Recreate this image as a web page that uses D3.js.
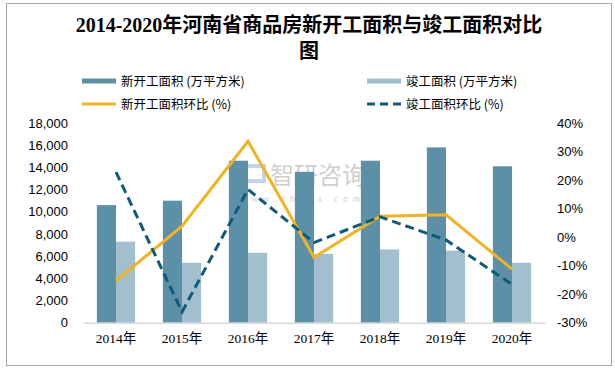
<!DOCTYPE html>
<html><head><meta charset="utf-8">
<script src="https://cdn.jsdelivr.net/npm/d3@7/dist/d3.min.js"></script>
<style>body{margin:0;background:#fff}svg{display:block}</style>
</head><body>
<script>
const years = ["2014年","2015年","2016年","2017年","2018年","2019年","2020年"];
const newStart = [10600,11000,14600,13600,14600,15800,14100];
const completed = [7300,5400,6300,6200,6600,6500,5400];
const newStartMoM = [-15.3,3.8,33.6,-7.1,7.3,7.8,-11.2];
const completedMoM = [22.8,-26.2,16.7,-1.9,7.1,-1.0,-16.6];
const leftTicks = [0,2000,4000,6000,8000,10000,12000,14000,16000,18000];
const rightTicks = [-30,-20,-10,0,10,20,30,40];

const W=615,H=369;
const svg=d3.select("body").append("svg").attr("width",W).attr("height",H);
svg.append("rect").attr("x",6.5).attr("y",3.5).attr("width",605).attr("height",362)
  .attr("fill","#fff").attr("stroke","#a6a6a6").attr("stroke-width",1);

// title
const tf='"Liberation Serif","Noto Sans CJK SC",serif';
svg.append("text").attr("x",309).attr("y",32).attr("text-anchor","middle")
  .attr("font-family",tf).attr("font-weight","bold").attr("font-size",20).attr("fill","#000")
  .text("2014-2020年河南省商品房新开工面积与竣工面积对比");
svg.append("text").attr("x",309).attr("y",58).attr("text-anchor","middle")
  .attr("font-family",tf).attr("font-weight","bold").attr("font-size",20).attr("fill","#000")
  .text("图");

const C={dark:"#5c8fa8",light:"#a1bfcc",yellow:"#f2b31f",blue:"#0e5b7a"};

// legend
const lf='"Noto Sans CJK SC",sans-serif';
const leg=[
 {x:82,y:81,type:"bar",color:C.dark,label:"新开工面积 (万平方米)"},
 {x:367,y:81,type:"bar",color:C.light,label:"竣工面积 (万平方米)"},
 {x:82,y:104,type:"line",color:C.yellow,label:"新开工面积环比 (%)"},
 {x:367,y:104,type:"dash",color:C.blue,label:"竣工面积环比 (%)"}
];
leg.forEach(l=>{
  if(l.type==="bar") svg.append("rect").attr("x",l.x).attr("y",l.y-2.5).attr("width",34).attr("height",5).attr("fill",l.color);
  else svg.append("line").attr("x1",l.x).attr("x2",l.x+34).attr("y1",l.y).attr("y2",l.y)
    .attr("stroke",l.color).attr("stroke-width",3).attr("stroke-dasharray",l.type==="dash"?"8,5":null);
  svg.append("text").attr("x",l.x+39).attr("y",l.y+4.5).attr("font-family",lf).attr("font-size",12.5)
    .attr("fill","#000").text(l.label);
});

// watermark
const wm=svg.append("g").attr("opacity",0.35);
wm.append("rect").attr("x",245).attr("y",166).attr("width",19).attr("height",15).attr("fill","none").attr("stroke","#4a86c5").attr("stroke-width",4);
wm.append("text").attr("x",270).attr("y",184).attr("font-family",lf).attr("font-size",24).attr("fill","#777").text("智研咨询");
wm.append("text").attr("x",240).attr("y",202).attr("font-family",lf).attr("font-size",8).attr("letter-spacing",5).attr("fill","#777").text("www.chyxx.com");

// scales
const x=d3.scaleBand().domain(years).range([83,545]).paddingInner(0.42).paddingOuter(0.21);
const yL=d3.scaleLinear().domain([0,18000]).range([322.7,123]);
const yR=d3.scaleLinear().domain([-30,40]).range([322.7,123]);

const af='"Liberation Sans",Arial,sans-serif';
const axL=svg.append("g").attr("transform","translate(68,0)")
  .call(d3.axisLeft(yL).tickValues(leftTicks).tickSize(0).tickPadding(0).tickFormat(d3.format(",")));
axL.select(".domain").remove();
axL.selectAll("text").attr("font-family",af).attr("font-size",13).attr("fill","#000");

const axR=svg.append("g").attr("transform","translate(557,0)")
  .call(d3.axisRight(yR).tickValues(rightTicks).tickSize(0).tickPadding(0).tickFormat(d=>d+"%"));
axR.select(".domain").remove();
axR.selectAll("text").attr("font-family",af).attr("font-size",13).attr("fill","#000");

// bars
const bw=x.bandwidth()/2;
svg.append("g").selectAll("rect").data(newStart).join("rect")
  .attr("x",(d,i)=>x(years[i])).attr("width",bw).attr("y",d=>yL(d)).attr("height",d=>yL(0)-yL(d)).attr("fill",C.dark);
svg.append("g").selectAll("rect").data(completed).join("rect")
  .attr("x",(d,i)=>x(years[i])+bw).attr("width",bw).attr("y",d=>yL(d)).attr("height",d=>yL(0)-yL(d)).attr("fill",C.light);

// x axis
const axX=svg.append("g").attr("transform","translate(0,"+yL(0)+")")
  .call(d3.axisBottom(x).tickSize(0).tickPadding(11));
axX.select(".domain").attr("stroke","#d9d9d9").attr("stroke-width",1.5);
axX.selectAll("text").attr("font-family",'"Liberation Serif","Noto Sans CJK SC",serif').attr("font-size",13.5).attr("fill","#000");

// lines
const cx=(i)=>x(years[i])+x.bandwidth()/2;
const line=d3.line().x((d,i)=>cx(i)).y(d=>yR(d));
svg.append("path").datum(newStartMoM).attr("d",line).attr("fill","none").attr("stroke",C.yellow).attr("stroke-width",3).attr("stroke-linejoin","miter");
svg.append("path").datum(completedMoM).attr("d",line).attr("fill","none").attr("stroke",C.blue).attr("stroke-width",3).attr("stroke-dasharray","9,5");
</script>
</body></html>
